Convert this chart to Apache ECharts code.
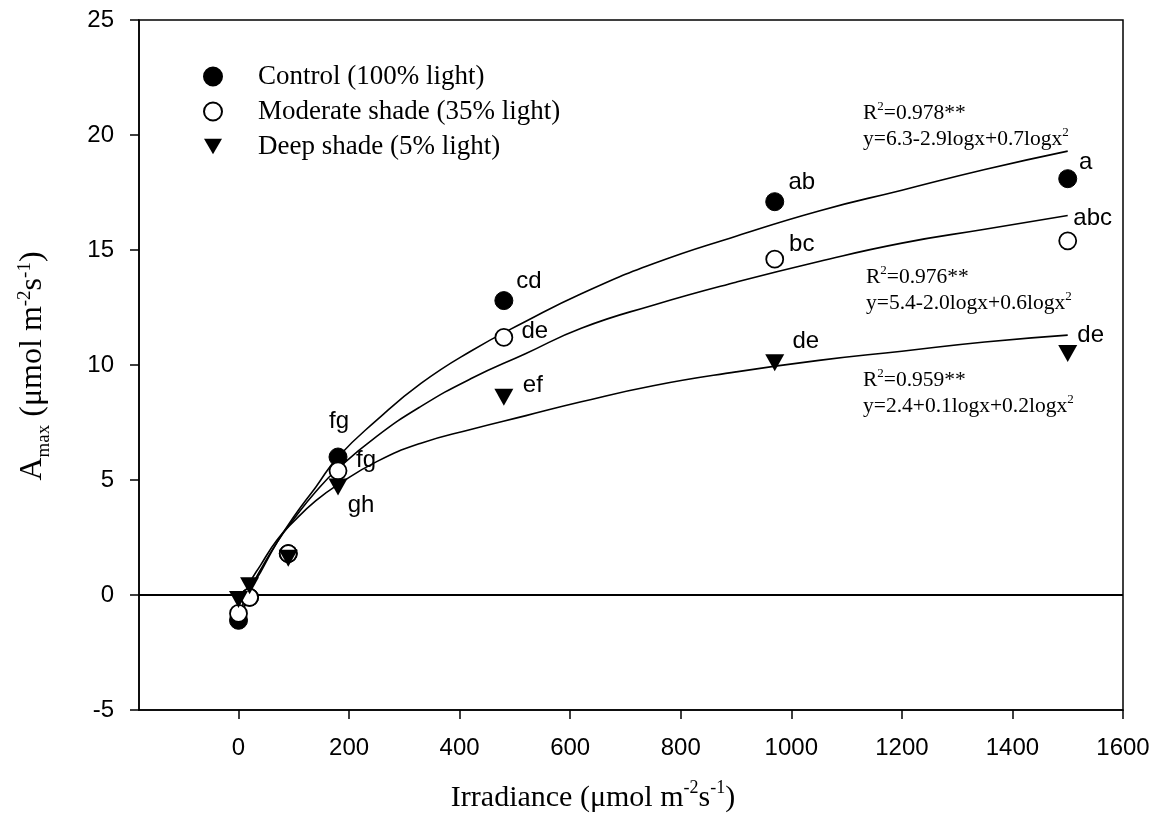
<!DOCTYPE html>
<html>
<head>
<meta charset="utf-8">
<script src="https://cdn.jsdelivr.net/npm/echarts@6/dist/echarts.min.js"></script>
<style>
  html, body { margin: 0; padding: 0; background: #fff; }
  #chart { width: 1165px; height: 830px; }
</style>
</head>
<body>
<div id="chart"></div>
<script>
// Irradiance levels (µmol m-2 s-1) at which Amax was measured
const irradiance = [0, 20, 90, 180, 480, 970, 1500];

// Measured Amax for each light treatment
const controlAmax  = [-1.1, -0.1, 1.8, 6.0, 12.8, 17.1, 18.1];
const moderateAmax = [-0.8, -0.1, 1.8, 5.4, 11.2, 14.6, 15.4];
const deepAmax     = [-0.2,  0.4, 1.6, 4.7,  8.6, 10.1, 10.5];

// Significance letters (empty = no letter shown)
const controlLetters  = ['', '', '', 'fg', 'cd', 'ab', 'a'];
const moderateLetters = ['', '', '', 'fg', 'de', 'bc', 'abc'];
const deepLetters     = ['', '', '', 'gh', 'ef', 'de', 'de'];

// Fitted response curves
const curveX        = [3, 10, 20, 40, 70, 100, 140, 180, 250, 330, 420, 520, 620, 750, 900, 1050, 1200, 1350, 1500];
const controlCurve  = [-1.4, -0.6, 0.2, 1.0, 2.3, 3.4, 4.7, 6.0, 7.6, 9.2, 10.6, 11.9, 13.1, 14.4, 15.6, 16.7, 17.6, 18.5, 19.3];
const moderateCurve = [-1.3, -0.5, 0.2, 1.1, 2.3, 3.3, 4.5, 5.5, 6.9, 8.2, 9.4, 10.5, 11.6, 12.6, 13.6, 14.5, 15.3, 15.9, 16.5];
const deepCurve     = [-1.0, -0.2, 0.5, 1.3, 2.4, 3.2, 4.1, 4.8, 5.8, 6.6, 7.2, 7.8, 8.4, 9.1, 9.7, 10.2, 10.6, 11.0, 11.3];

// Axis ticks
const xTicks = [0, 200, 400, 600, 800, 1000, 1200, 1400, 1600];

const seriesNames = ['Control (100% light)', 'Moderate shade (35% light)', 'Deep shade (5% light)'];

// Regression annotations: R², equation (without the trailing squared term)
const fitR2  = ['0.978', '0.976', '0.959'];
const fitEqs = ['6.3-2.9logx+0.7logx', '5.4-2.0logx+0.6logx', '2.4+0.1logx+0.2logx'];

// Letter label offsets from marker centre (px)
const letterOffsets = {
  control:  [null, null, null, [1, -36], [25, -19], [27, -19], [18, -16]],
  moderate: [null, null, null, [28, -10], [31, -6], [27, -15], [25, -22]],
  deep:     [null, null, null, [23, 18], [29, -12], [31, -21], [23, -18]]
};
// Annotation anchor points (px, left edge / first line centre)
const annotationPos = [[863, 112], [866, 276], [863, 379]];

const serifFont = '"Liberation Serif", "Times New Roman", serif';
const sansFont = '"Liberation Sans", Arial, sans-serif';
const downTriangle = 'path://M0,0L20,0L10,17Z';

function points(values, letters, offsets) {
  return irradiance.map((x, i) => {
    const item = { value: [x, values[i]], letter: letters[i] };
    if (offsets[i]) {
      item.label = { show: true, offset: offsets[i] };
    }
    return item;
  });
}

function curve(values) {
  return curveX.map((x, i) => [x, values[i]]);
}

const letterLabel = {
  show: false,
  position: 'inside',
  align: 'center',
  verticalAlign: 'middle',
  color: '#000',
  fontFamily: sansFont,
  fontSize: 24,
  formatter: p => p.data.letter
};

function fitLine(name, values) {
  return {
    name: name + ' fit',
    type: 'line',
    data: curve(values),
    smooth: true,
    showSymbol: false,
    silent: true,
    lineStyle: { color: '#000', width: 1.6 },
    z: 2
  };
}

const annoRich = {
  a: { fontFamily: serifFont, fontSize: 21.5, color: '#222', lineHeight: 24, verticalAlign: 'bottom' },
  sup: { fontFamily: serifFont, fontSize: 13, color: '#222', lineHeight: 24, verticalAlign: 'top' }
};

const chart = echarts.init(document.getElementById('chart'));

chart.setOption({
  animation: false,
  backgroundColor: '#fff',
  grid: {
    left: 139, right: 42, top: 20, bottom: 120,
    show: true, borderColor: '#000', borderWidth: 1.5
  },
  legend: {
    data: seriesNames,
    orient: 'vertical',
    left: 198, top: 58,
    itemWidth: 18, itemHeight: 18,
    itemGap: 8,
    textStyle: {
      fontFamily: serifFont, fontSize: 27, color: '#000',
      lineHeight: 27, padding: [0, 0, 0, 31]
    },
    selectedMode: false
  },
  xAxis: {
    type: 'value',
    min: -180, max: 1600,
    axisLine: { onZero: false, lineStyle: { color: '#000', width: 1.5 } },
    axisTick: { show: true, length: 9, customValues: xTicks, lineStyle: { color: '#000', width: 1.5 } },
    axisLabel: {
      customValues: xTicks, margin: 26, color: '#000', fontFamily: sansFont, fontSize: 24,
      formatter: v => String(v)
    },
    splitLine: { show: false }
  },
  yAxis: {
    type: 'value',
    min: -5, max: 25, interval: 5,
    axisLine: { onZero: false, lineStyle: { color: '#000', width: 1.5 } },
    axisTick: { show: true, length: 9, lineStyle: { color: '#000', width: 1.5 } },
    axisLabel: { margin: 25, color: '#000', fontFamily: sansFont, fontSize: 24 },
    splitLine: { show: false }
  },
  graphic: [
    {
      type: 'text', x: 593, y: 795,
      style: {
        text: '{a|Irradiance (μmol m}{sup|-2}{a|s}{sup|-1}{a|)}',
        align: 'center', verticalAlign: 'middle',
        rich: {
          a: { fontFamily: serifFont, fontSize: 30, color: '#000', lineHeight: 36, verticalAlign: 'bottom' },
          sup: { fontFamily: serifFont, fontSize: 18, color: '#000', lineHeight: 36, verticalAlign: 'top', padding: [2, 0, 0, 0] }
        }
      }
    },
    {
      type: 'text', x: 33, y: 366, rotation: Math.PI / 2,
      style: {
        text: '{a|A}{sub|max}{a| (μmol m}{sup|-2}{a|s}{sup|-1}{a|)}',
        align: 'center', verticalAlign: 'middle',
        rich: {
          a: { fontFamily: serifFont, fontSize: 32, color: '#000', lineHeight: 42, verticalAlign: 'middle' },
          sub: { fontFamily: serifFont, fontSize: 19, color: '#000', lineHeight: 42, verticalAlign: 'bottom' },
          sup: { fontFamily: serifFont, fontSize: 19, color: '#000', lineHeight: 42, verticalAlign: 'top', padding: [4, 0, 0, 0] }
        }
      }
    },
    ...fitR2.flatMap((r2, i) => [
      {
        type: 'text', x: annotationPos[i][0], y: annotationPos[i][1],
        style: {
          text: '{a|R}{sup|2}{a|=' + r2 + '**}',
          verticalAlign: 'middle',
          rich: annoRich
        }
      },
      {
        type: 'text', x: annotationPos[i][0], y: annotationPos[i][1] + 26,
        style: {
          text: '{a|y=' + fitEqs[i] + '}{sup|2}',
          verticalAlign: 'middle',
          rich: annoRich
        }
      }
    ])
  ],
  series: [
    fitLine('control', controlCurve),
    fitLine('moderate', moderateCurve),
    fitLine('deep', deepCurve),
    {
      name: seriesNames[0],
      type: 'scatter',
      symbol: 'circle',
      symbolSize: 18,
      itemStyle: { color: '#000', borderColor: '#000', borderWidth: 1, opacity: 1 },
      label: letterLabel,
      data: points(controlAmax, controlLetters, letterOffsets.control),
      z: 4,
      markLine: {
        silent: true,
        symbol: 'none',
        label: { show: false },
        lineStyle: { color: '#000', width: 2, type: 'solid' },
        data: [{ yAxis: 0 }],
        z: 1
      }
    },
    {
      name: seriesNames[1],
      type: 'scatter',
      symbol: 'circle',
      symbolSize: 17,
      itemStyle: { color: '#fff', borderColor: '#000', borderWidth: 1.8, opacity: 1 },
      label: letterLabel,
      data: points(moderateAmax, moderateLetters, letterOffsets.moderate),
      z: 5
    },
    {
      name: seriesNames[2],
      type: 'scatter',
      symbol: downTriangle,
      symbolSize: [19, 17],
      itemStyle: { color: '#000', opacity: 1 },
      label: letterLabel,
      data: points(deepAmax, deepLetters, letterOffsets.deep),
      z: 6
    }
  ]
});
</script>
</body>
</html>
